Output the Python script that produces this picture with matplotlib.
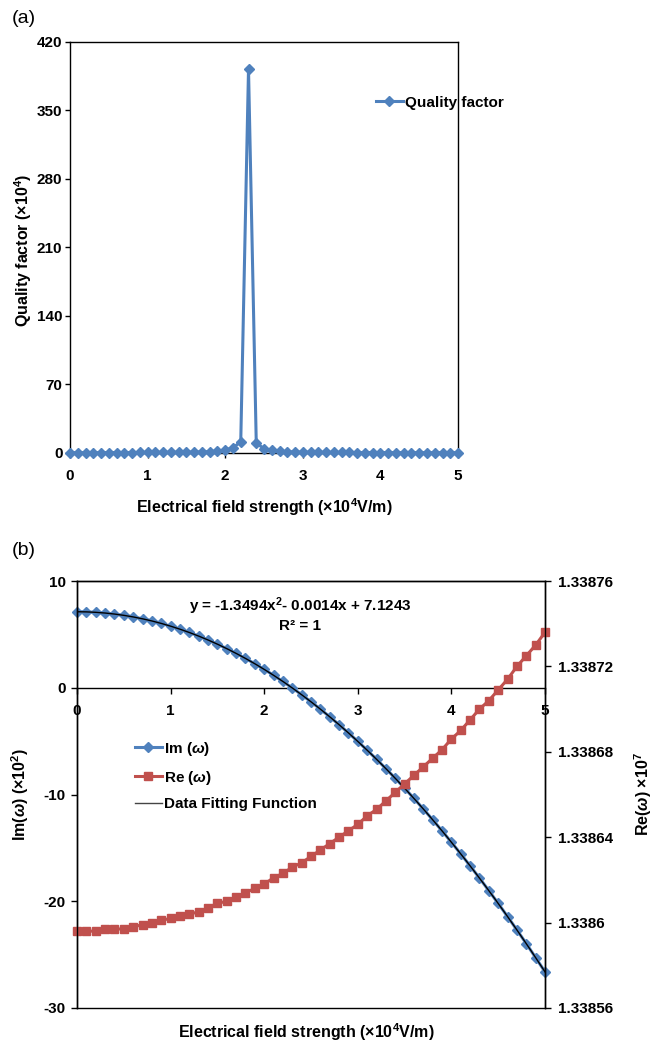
import numpy as np
import matplotlib
matplotlib.use('Agg')
import matplotlib.pyplot as plt
from matplotlib.lines import Line2D

plt.rcParams['font.family'] = ['Liberation Sans', 'DejaVu Sans']
plt.rcParams['font.weight'] = 'bold'
plt.rcParams['axes.labelweight'] = 'bold'
plt.rcParams['axes.unicode_minus'] = False
plt.rcParams['mathtext.fontset'] = 'custom'
plt.rcParams['mathtext.rm'] = 'Liberation Sans:bold'
plt.rcParams['mathtext.it'] = 'Liberation Sans:bold:italic'
plt.rcParams['mathtext.bf'] = 'Liberation Sans:bold'

# field strength (x10^4 V/m), 0 to 5 in steps of 0.1
field = [round(0.1 * i, 1) for i in range(51)]

quality = [0.3, 0.3, 0.3, 0.3, 0.3, 0.4, 0.4, 0.4, 0.4, 0.5,
           0.5, 0.5, 0.6, 0.6, 0.7, 0.8, 0.9, 1.1, 1.4, 2.0,
           3.0, 5.2, 11.5, 392.0, 10.0, 4.5, 2.6, 1.8, 1.3, 1.0,
           0.8, 0.7, 0.6, 0.6, 0.5, 0.5, 0.5, 0.4, 0.4, 0.4,
           0.4, 0.4, 0.3, 0.3, 0.3, 0.3, 0.3, 0.3, 0.3, 0.3, 0.3]

im_omega = [7.124, 7.111, 7.070, 7.002, 6.908, 6.786, 6.638, 6.462, 6.260, 6.030,
            5.773, 5.490, 5.179, 4.842, 4.478, 4.086, 3.668, 3.222, 2.750, 2.250,
            1.724, 1.171, 0.590, -0.017, -0.652, -1.313, -2.001, -2.717, -3.459, -4.228,
            -5.025, -5.848, -6.698, -7.575, -8.480, -9.411, -10.369, -11.354, -12.366, -13.405,
            -14.472, -15.565, -16.685, -17.832, -19.006, -20.207, -21.435, -22.690, -23.972, -25.282,
            -26.618]

re_omega = [1.338596, 1.338596, 1.338596, 1.338597, 1.338597, 1.338597, 1.338598, 1.338599, 1.338600, 1.338601,
            1.338602, 1.338603, 1.338604, 1.338605, 1.338607, 1.338609, 1.338610, 1.338612, 1.338614, 1.338616,
            1.338618, 1.338621, 1.338623, 1.338626, 1.338628, 1.338631, 1.338634, 1.338637, 1.338640, 1.338643,
            1.338646, 1.338650, 1.338653, 1.338657, 1.338661, 1.338665, 1.338669, 1.338673, 1.338677, 1.338681,
            1.338686, 1.338690, 1.338695, 1.338700, 1.338704, 1.338709, 1.338714, 1.338720, 1.338725, 1.338730,
            1.338736]

# quadratic fit of Im(w): y = -1.3494x^2 - 0.0014x + 7.1243
fit_coeffs = [-1.3494, -0.0014, 7.1243]

BLUE = '#4F81BD'
RED = '#C0504D'
TICK_FS = 11
LABEL_FS = 11.5
TEXT_FS = 11

fig = plt.figure(figsize=(6.52, 10.49), dpi=100)

# ---- (a) quality factor ----
ax1 = fig.add_axes([0.1074, 0.5682, 0.5951, 0.3918])
ax1.plot(field, quality, color=BLUE, lw=2.2, marker='D', ms=5, mec=BLUE,
         label='Quality factor', clip_on=False, zorder=3)
ax1.set_xlim(0, 5)
ax1.set_ylim(0, 420)
ax1.set_xticks(range(6))
ax1.set_yticks(range(0, 421, 70))
ax1.tick_params(direction='out', length=3.5, width=1, labelsize=TICK_FS, pad=2)
ax1.tick_params(axis='x', pad=8)
ax1.tick_params(top=False, right=False)
for s in ax1.spines.values():
    s.set_linewidth(1)
ax1.set_xlabel('Electrical field strength (×10$^{4}$V/m)', fontsize=LABEL_FS)
ax1.xaxis.set_label_coords(0.5, -0.105)
ax1.set_ylabel('Quality factor (×10$^{4}$)', fontsize=LABEL_FS)
ax1.yaxis.set_label_coords(-0.092, 0.494)
ax1.legend(loc='upper left', bbox_to_anchor=(0.565, 0.916), bbox_transform=fig.transFigure,
           frameon=False, fontsize=TEXT_FS, handlelength=1.75, handletextpad=0.15, borderpad=0)
fig.text(0.018, 0.99, '(a)', fontsize=14, fontweight='normal', va='top')

# ---- (b) complex frequency ----
ax2 = fig.add_axes([0.1181, 0.0391, 0.7178, 0.4070])
ax3 = ax2.twinx()

xs = np.linspace(0, 5, 200)
ax2.plot(field, im_omega, color=BLUE, lw=2.2, marker='D', ms=5, mec=BLUE,
         clip_on=False, zorder=2)
ax2.plot(xs, np.polyval(fit_coeffs, xs), color='black', lw=1, zorder=4)
ax3.plot(field, re_omega, color=RED, lw=2.2, marker='s', ms=6, mec=RED,
         clip_on=False, zorder=2)

ax2.set_xlim(0, 5)
ax2.set_ylim(-30, 10)
ax2.set_yticks([-30, -20, -10, 0, 10])
ax2.set_xticks(range(6))
ax2.spines['bottom'].set_position(('data', 0))
ax2.spines['bottom'].set_zorder(1)
ax3.set_ylim(1.33856, 1.33876)
ax3.set_yticks([1.33856, 1.3386, 1.33864, 1.33868, 1.33872, 1.33876])
ax3.set_yticklabels(['1.33856', '1.3386', '1.33864', '1.33868', '1.33872', '1.33876'])
ax2.tick_params(direction='out', length=4, width=1, labelsize=TICK_FS, pad=4)
ax2.tick_params(axis='x', pad=8)
ax3.tick_params(direction='out', length=4, width=1, labelsize=TICK_FS, pad=5)
for a in (ax2, ax3):
    for s in a.spines.values():
        s.set_linewidth(1)

ax2.set_ylabel('Im($\\omega$) (×10$^{2}$)', fontsize=LABEL_FS)
ax2.yaxis.set_label_coords(-0.098, 0.499)
ax3.set_ylabel('Re($\\omega$) ×10$^{7}$', fontsize=LABEL_FS)
ax3.yaxis.set_label_coords(1.186, 0.5)
fig.text(0.47, 0.0165, 'Electrical field strength (×10$^{4}$V/m)', fontsize=LABEL_FS,
         ha='center', va='center')

ax2.text(0.477, 0.941, 'y = -1.3494x$^{2}$- 0.0014x + 7.1243', transform=ax2.transAxes,
         fontsize=TEXT_FS, ha='center', va='center')
ax2.text(0.477, 0.894, 'R² = 1', transform=ax2.transAxes, fontsize=TEXT_FS,
         ha='center', va='center')

handles = [Line2D([], [], color=BLUE, lw=2.2, marker='D', ms=5),
           Line2D([], [], color=RED, lw=2.2, marker='s', ms=6),
           Line2D([], [], color='#444444', lw=1)]
labels = ['Im ($\\omega$)', 'Re ($\\omega$)', 'Data Fitting Function']
fig.legend(handles, labels, loc='upper left', bbox_to_anchor=(0.195, 0.302),
           frameon=False, fontsize=TEXT_FS, handlelength=1.75, handletextpad=0.15,
           labelspacing=0.7, borderpad=0)
fig.text(0.018, 0.483, '(b)', fontsize=14, fontweight='normal', va='top')

fig.savefig('out.png', dpi=100)
